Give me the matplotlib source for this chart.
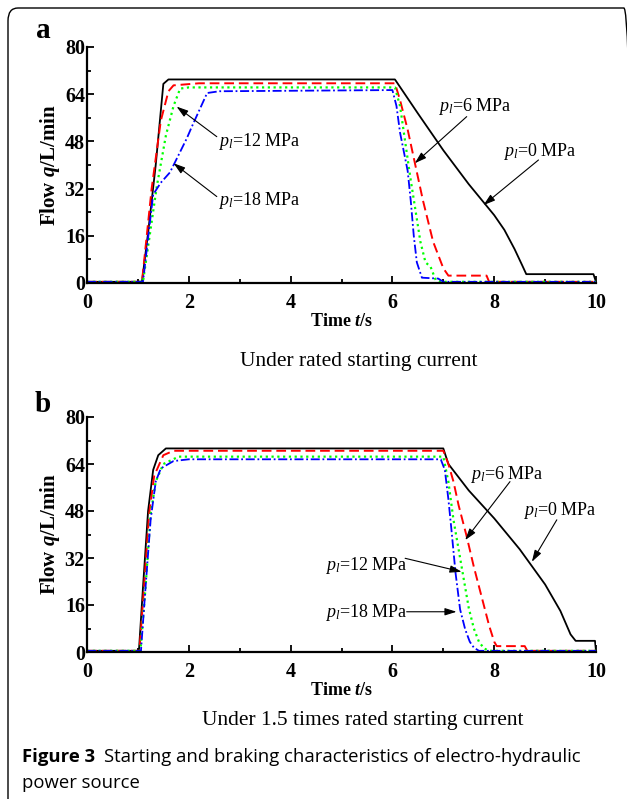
import matplotlib
matplotlib.use('Agg')
import matplotlib.pyplot as plt
from matplotlib.patches import FancyBboxPatch
from matplotlib.ticker import MultipleLocator

plt.rcParams['font.family'] = ['Liberation Serif', 'DejaVu Serif']
plt.rcParams['mathtext.fontset'] = 'custom'
plt.rcParams['mathtext.rm'] = 'Liberation Serif'
plt.rcParams['mathtext.it'] = 'Liberation Serif:italic'
plt.rcParams['mathtext.bf'] = 'Liberation Serif:bold'
plt.rcParams['mathtext.bfit'] = 'Liberation Serif:italic:bold'

# ---- panel a: rated starting current ----
a_t0 = [0, 1.08, 1.2, 1.35, 1.5, 1.6, 6.05, 6.5, 7.0, 7.5, 8.0, 8.2, 8.4, 8.55, 8.63, 9.95, 10.0]
a_q0 = [0.4, 0.4, 17, 40, 67.5, 69, 69, 57.5, 45, 33.5, 23, 18, 11.5, 6, 3, 3, 0.4]

a_t6 = [0, 1.08, 1.27, 1.45, 1.6, 1.7, 2.2, 6.05, 6.15, 6.3, 6.45, 6.6, 6.8, 7.0, 7.1, 7.85, 7.9, 10.0]
a_q6 = [0.4, 0.4, 32, 55, 65, 67, 67.7, 67.7, 62, 52, 40, 28, 14, 5, 2.5, 2.5, 0.4, 0.4]

a_t12 = [0, 1.1, 1.37, 1.55, 1.7, 1.83, 2.0, 6.05, 6.15, 6.25, 6.35, 6.45, 6.55, 6.65, 6.75, 6.85, 6.95, 10.0]
a_q12 = [0.4, 0.4, 32.6, 50, 60, 65.9, 66.3, 66.3, 60, 48, 36, 25, 14, 7, 5.5, 1, 0.4, 0.4]

a_t18 = [0, 1.1, 1.3, 1.45, 1.63, 1.96, 2.06, 2.36, 2.6, 6.0, 6.08, 6.15, 6.3, 6.36, 6.42, 6.48, 6.58, 6.9, 7.0, 10.0]
a_q18 = [0.4, 0.4, 30, 34, 37.5, 49, 53, 64.4, 65, 65.4, 60, 51, 38, 28, 16, 7, 1.8, 1.5, 0.4, 0.4]

# ---- panel b: 1.5 times rated starting current ----
b_t0 = [0, 1.02, 1.1, 1.2, 1.3, 1.4, 1.55, 7.0, 7.1, 7.5, 8.0, 8.5, 9.0, 9.3, 9.5, 9.6, 9.98, 10.0]
b_q0 = [0.4, 0.4, 22, 48, 62, 67, 69.3, 69.3, 64, 55, 45.5, 35, 23, 14, 6, 3.8, 3.8, 0.4]

b_t6 = [0, 1.03, 1.12, 1.22, 1.32, 1.5, 1.7, 7.0, 7.1, 7.2, 7.3, 7.45, 7.6, 7.75, 7.9, 8.0, 8.05, 8.6, 8.65, 10.0]
b_q6 = [0.4, 0.4, 22, 47, 60, 67, 68.5, 68.5, 64, 58, 50, 40, 29, 19, 9, 3.5, 2, 2, 0.4, 0.4]

b_t12 = [0, 1.05, 1.15, 1.25, 1.35, 1.5, 1.8, 7.0, 7.1, 7.2, 7.3, 7.4, 7.5, 7.6, 7.7, 7.8, 7.9, 10.0]
b_q12 = [0.4, 0.4, 22, 47, 58, 64, 66.5, 66.5, 58, 45, 35, 25, 15, 8, 3.5, 1.2, 0.4, 0.4]

b_t18 = [0, 1.06, 1.15, 1.25, 1.35, 1.45, 1.7, 2.0, 6.95, 7.03, 7.1, 7.16, 7.24, 7.33, 7.43, 7.52, 7.6, 7.7, 10.0]
b_q18 = [0.4, 0.4, 22, 45, 58, 62.5, 65, 65.6, 65.6, 62, 52, 41.6, 27, 14.5, 7.7, 3.5, 1.5, 0.4, 0.4]

# annotations: (label, text x, text y, arrow tail, arrow tip)
a_notes = [
    ('12', 2.57, 47.8, (2.55, 49.6), (1.76, 59.8)),
    ('18', 2.57, 28.1, (2.55, 29.3), (1.70, 40.6)),
    ('6', 6.9, 59.7, (7.46, 56.4), (6.44, 40.6)),
    ('0', 8.17, 44.5, (8.87, 41.7), (7.79, 26.4)),
]
b_notes = [
    ('6', 7.52, 60.3, (8.31, 58.0), (7.43, 38.1)),
    ('0', 8.57, 48.3, (9.23, 45.0), (8.74, 30.7)),
    ('12', 4.68, 29.6, (6.25, 31.9), (7.36, 27.3)),
    ('18', 4.68, 13.3, (6.28, 13.7), (7.26, 13.7)),
]

fig = plt.figure(figsize=(6.27, 7.99), dpi=100)

# rounded frame, right and bottom sides run off the page
frame = FancyBboxPatch((8 / 627, -0.05), (627 - 8) / 627 + 0.011, 1 - 8 / 799 + 0.05,
                       boxstyle='round,pad=0,rounding_size=0.016',
                       transform=fig.transFigure, fill=False, lw=1.0, ec='k')
fig.patches.append(frame)


def draw_panel(ax, curves, notes):
    styles = [('k', '-', 1.3), ('r', (0, (5, 2.5)), 1.4),
              ('#00ff00', (0, (1, 1.6)), 1.6), ('b', (0, (5, 1.5, 1, 1.5)), 1.3)]
    for (tt, qq), (c, ls, lw) in zip(curves, styles):
        ax.plot(tt, qq, color=c, ls=ls, lw=lw)
    ax.set_xlim(0, 10)
    ax.set_ylim(0, 80)
    ax.spines['top'].set_visible(False)
    ax.spines['right'].set_visible(False)
    for s in ('left', 'bottom'):
        ax.spines[s].set_linewidth(1.6)
    ax.xaxis.set_major_locator(MultipleLocator(2))
    ax.xaxis.set_minor_locator(MultipleLocator(1))
    ax.yaxis.set_major_locator(MultipleLocator(16))
    ax.yaxis.set_minor_locator(MultipleLocator(8))
    ax.tick_params(which='both', direction='in', width=1.3, labelsize=14.5)
    ax.tick_params(which='major', length=5)
    ax.tick_params(which='minor', length=3)
    ax.tick_params(axis='x', pad=7)
    ax.tick_params(axis='y', pad=1.5)
    for lab in ax.get_xticklabels() + ax.get_yticklabels():
        lab.set_fontweight('bold')
    ax.set_xlabel(r'Time $\mathbfit{t}$/s', fontsize=13, fontweight='bold', labelpad=0)
    ax.set_ylabel(r'Flow $\mathbfit{q}$/L/min', fontsize=15, fontweight='bold', labelpad=2)
    for lab, tx, ty, tail, tip in notes:
        ax.text(tx, ty, r'$p_l$=' + lab + ' MPa', fontsize=13, va='center', ha='left')
        ax.annotate('', xy=tip, xytext=tail,
                    arrowprops=dict(arrowstyle='-|>,head_length=0.7,head_width=0.22',
                                    color='k', lw=0.8, shrinkA=0, shrinkB=0))


ax_a = fig.add_axes([87 / 627, 1 - 283 / 799, 509 / 627, 236 / 799])
draw_panel(ax_a, [(a_t0, a_q0), (a_t6, a_q6), (a_t12, a_q12), (a_t18, a_q18)], a_notes)
ax_b = fig.add_axes([87 / 627, 1 - 652 / 799, 509 / 627, 235 / 799])
draw_panel(ax_b, [(b_t0, b_q0), (b_t6, b_q6), (b_t12, b_q12), (b_t18, b_q18)], b_notes)

fig.text(43 / 627, 1 - 31 / 799, 'a', fontsize=21, fontweight='bold', ha='center', va='center')
fig.text(43 / 627, 1 - 404 / 799, 'b', fontsize=21, fontweight='bold', ha='center', va='center')

fig.text(359 / 627, 1 - 361 / 799, 'Under rated starting current', fontsize=15.4,
         ha='center', va='center')
fig.text(363 / 627, 1 - 720 / 799, 'Under 1.5 times rated starting current', fontsize=15.4,
         ha='center', va='center')

cap = fig.text(22 / 627, 1 - 757 / 799, 'Figure 3', fontsize=13.3, fontweight='bold',
               family='Open Sans', ha='left', va='center')
fig.canvas.draw()
ext = cap.get_window_extent(fig.canvas.get_renderer())
fig.text(ext.x1 / 627 + 9 / 627, 1 - 757 / 799,
         'Starting and braking characteristics of electro-hydraulic',
         fontsize=13.3, family='Open Sans', ha='left', va='center')
fig.text(22 / 627, 1 - 783 / 799, 'power source', fontsize=13.3, family='Open Sans',
         ha='left', va='center')

fig.savefig('out.png', dpi=100)
